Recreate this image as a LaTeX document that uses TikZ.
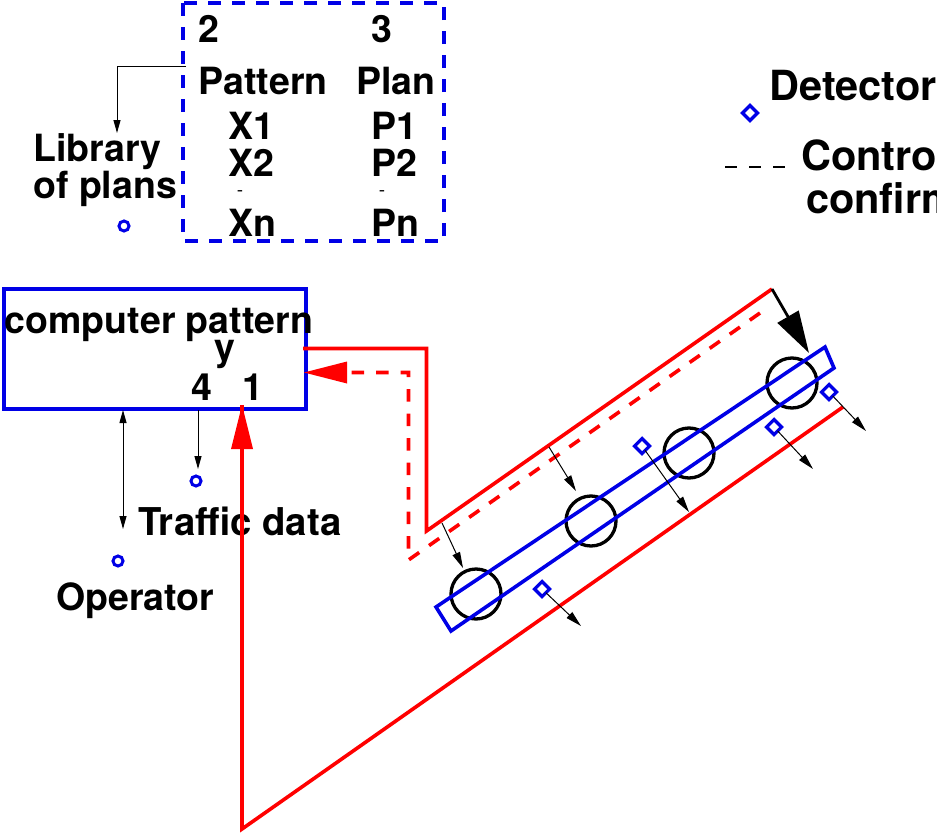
\documentclass[tikz,border=0pt]{standalone}
\usepackage{fontspec}
\setmainfont{TeX Gyre Heros}
\usetikzlibrary{arrows.meta,shapes.geometric}
\definecolor{myblue}{RGB}{0,0,230}
\definecolor{myred}{RGB}{255,0,0}
\tikzset{
  lbl/.style={anchor=base west,inner sep=0pt,font=\fontsize{37.5}{37.5}\selectfont\bfseries},
  lblb/.style={anchor=base west,inner sep=0pt,font=\fontsize{38.3}{38.3}\selectfont\bfseries},
  lblc/.style={anchor=base west,inner sep=0pt,font=\fontsize{41.5}{41.5}\selectfont\bfseries},
  tick/.style={anchor=base,inner sep=0pt,font=\fontsize{19}{19}\selectfont},
  thinarrow/.style={line width=1pt,-{Triangle[length=13pt,width=7pt]}},
  thinarrowb/.style={line width=1pt,{Triangle[length=13pt,width=7pt]}-{Triangle[length=13pt,width=7pt]}},
  smallarrow/.style={line width=1pt,-{Triangle[length=16pt,width=8pt]}},
  bluebox/.style={draw=myblue,line width=3.6pt},
  redline/.style={draw=myred,line width=3.6pt,line join=miter},
  reddash/.style={draw=myred,line width=3.6pt,dash pattern=on 12.5pt off 12pt},
  wheel/.style={circle,draw=black,line width=3.3pt,minimum size=50pt,inner sep=0pt,outer sep=0pt},
  det/.style={diamond,draw=myblue,line width=3.2pt,minimum size=15pt,inner sep=0pt,outer sep=0pt},
  dot/.style={circle,draw=myblue,line width=3pt,minimum size=10pt,inner sep=0pt,outer sep=0pt},
}
\begin{document}
\begin{tikzpicture}[x=1pt,y=-1pt]
\useasboundingbox (0,0) rectangle (937,835);
% library box
\draw[bluebox,dash pattern=on 13pt off 11pt] (183,3) rectangle (444,241);
\node[lbl] (n2) at (198,42) {2};
\node[lbl] (n3) at (371,42) {3};
\node[lbl] (pat) at (198.5,94) {Pattern};
\node[lbl] (plan) at (356,94) {Plan};
\node[lbl] (x1) at (228.5,139) {X1};
\node[lbl] (p1) at (371,139) {P1};
\node[lbl] (x2) at (228.5,176) {X2};
\node[lbl] (p2) at (371,176) {P2};
\node[tick] (t1) at (240,196) {-};
\node[tick] (t2) at (382,196) {-};
\node[lbl] (xn) at (228.5,236) {Xn};
\node[lbl] (pn) at (371,236) {Pn};
\node[lbl] (lib) at (33,161) {Library};
\node[lbl] (ofp) at (33,198) {of plans};
\node[dot] (dlib) at (124,226) {};
\coordinate (libout) at (186,66);
\coordinate (libin) at (117,133);
\draw[thinarrow] (libout) -- (117,66) -- (libin);
% computer
\node[bluebox,draw,minimum width=302pt,minimum height=120pt,inner sep=0pt,outer sep=0pt,anchor=north west] (comp) at (4,289) {};
\node[lbl] (cp) at (4.5,333) {computer pattern};
\node[lbl] (y) at (214,360) {y};
\node[lbl] (n4) at (191,400) {4};
\node[lbl] (n1) at (242,400) {1};
\node[lblb] (traffic) at (138,535) {Traffic data};
\node[lbl] (oper) at (56,610) {Operator};
\node[dot] (dtraf) at (196,481) {};
\node[dot] (dop) at (118,561) {};
\coordinate (opa) at (123,410);
\coordinate (opb) at (123,529);
\coordinate (tra) at (198,410);
\coordinate (trb) at (198,469);
\draw[thinarrowb] (opa) -- (opb);
\draw[thinarrow] (tra) -- (trb);
% legend
\node[det] (dleg) at (750,113) {};
\node[lblc] (detlbl) at (769,100) {Detector};
\coordinate (lda) at (725,167);
\coordinate (ldb) at (785,167);
\draw[line width=2.8pt,dash pattern=on 12pt off 12pt] (lda) -- (ldb);
\node[lblc] (ctl) at (801,170) {Control};
\node[lblc] (cnf) at (806,213) {confirm};
% red lines
\coordinate (r0) at (303,348.5);
\coordinate (r1) at (426.5,348.5);
\coordinate (r2) at (426.5,531);
\coordinate (r3) at (772,289);
\coordinate (q0) at (843,407);
\coordinate (q1) at (242,829);
\coordinate (q2) at (242,405);
\coordinate (s0) at (760,313);
\coordinate (s1) at (408.5,560);
\coordinate (s2) at (408.5,372.5);
\coordinate (s3) at (304,372.5);
\draw[redline] (r0) -- (r1) -- (r2) -- (r3);
\draw[redline] (q0) -- (q1) -- (q2);
\fill[myred] (q2) -- (253,449) -- (231,449) -- cycle;
\draw[reddash] (s0) -- (s1) -- (s2) -- (346,372.5);
\fill[myred] (s3) -- (347,361.5) -- (347,383.5) -- cycle;
% tram / corridor
\coordinate (b1) at (436,607);
\coordinate (b2) at (825,347);
\coordinate (b3) at (834,368);
\coordinate (b4) at (451,631);
\node[wheel] (w1) at (476,594) {};
\node[wheel] (w2) at (591,521) {};
\node[wheel] (w3) at (689,453) {};
\node[wheel] (w4) at (792,383) {};
\draw[bluebox] (b1) -- (b2) -- (b3) -- (b4) -- cycle;
\node[det] (d1) at (542,589) {};
\node[det] (d2) at (642,446) {};
\node[det] (d3) at (774,427) {};
\node[det] (d4) at (829,392) {};
\coordinate (e1) at (581,626);
\coordinate (e2) at (689,512);
\coordinate (e3) at (813,469);
\coordinate (e4) at (866,431);
\draw[smallarrow] (d1) -- (e1);
\draw[smallarrow] (d2) -- (e2);
\draw[smallarrow] (d3) -- (e3);
\draw[smallarrow] (d4) -- (e4);
\coordinate (f1) at (442,523);
\coordinate (g1) at (463,568);
\coordinate (f2) at (549,447);
\coordinate (g2) at (576,491);
\draw[smallarrow] (f1) -- (g1);
\draw[smallarrow] (f2) -- (g2);
\coordinate (h) at (809,353);
\draw[line width=2.8pt,-{Triangle[length=42pt,width=24pt]}] (r3) -- (h);
\end{tikzpicture}
\end{document}
